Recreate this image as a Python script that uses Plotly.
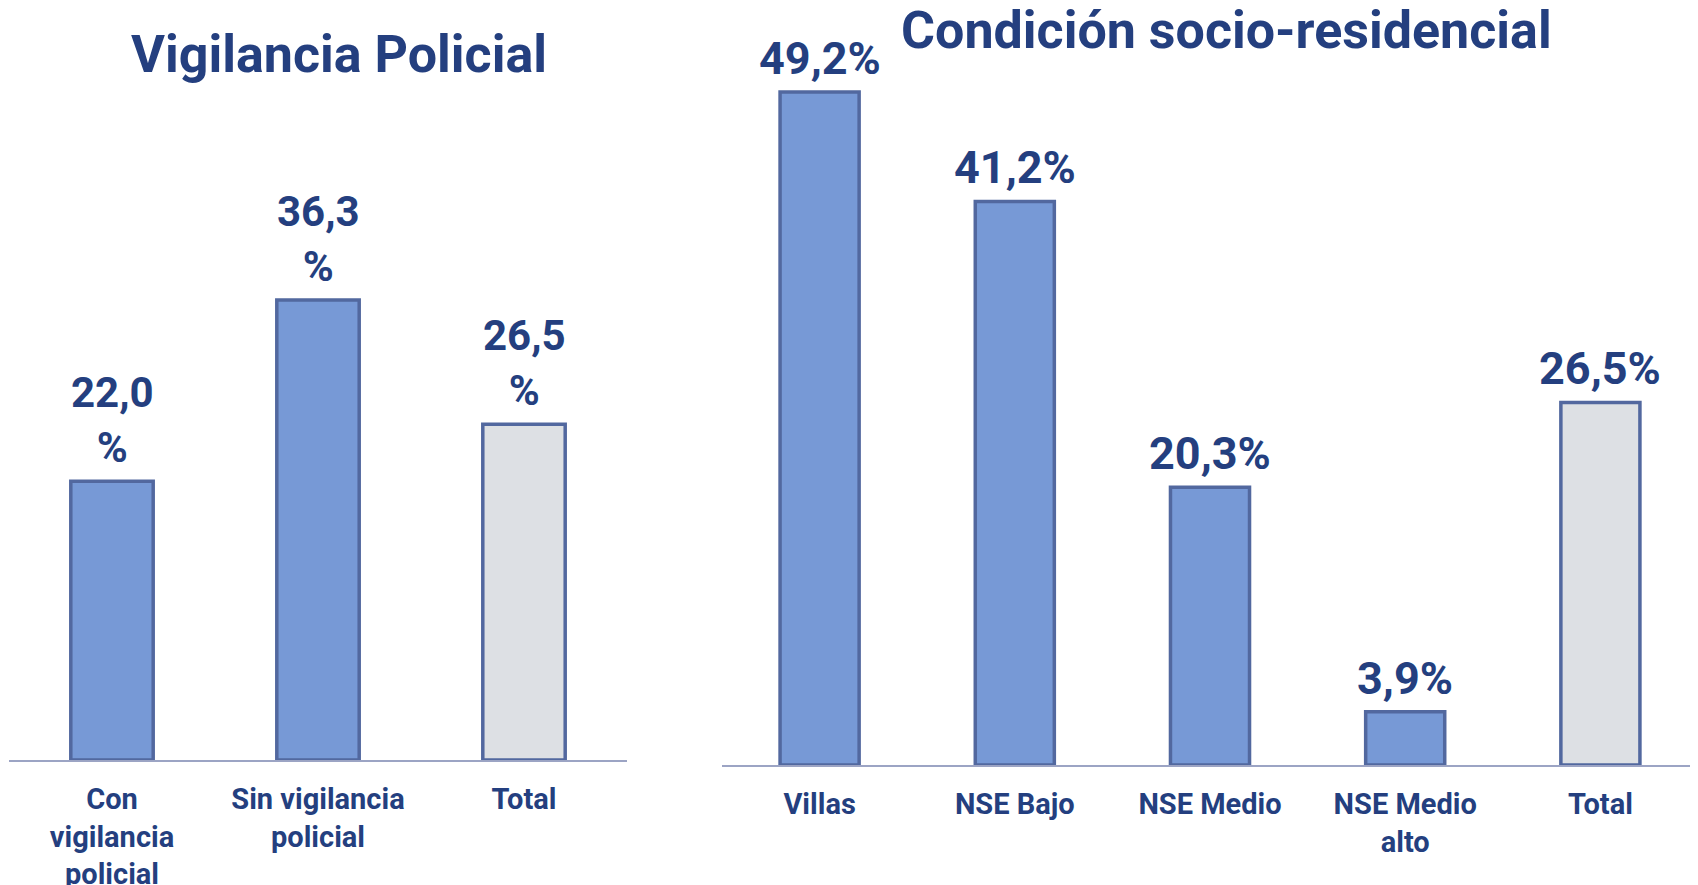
import plotly.graph_objects as go

# Data
vig_cats = ["Con<br>vigilancia<br>policial", "Sin vigilancia<br>policial", "Total"]
vig_vals = [22.0, 36.3, 26.5]
vig_labels = ["22,0<br>%", "36,3<br>%", "26,5<br>%"]

soc_cats = ["Villas", "NSE Bajo", "NSE Medio", "NSE Medio<br>alto", "Total"]
soc_vals = [49.2, 41.2, 20.3, 3.9, 26.5]
soc_labels = ["49,2%", "41,2%", "20,3%", "3,9%", "26,5%"]

BLUE = "#7799D6"
GREY = "#DDE0E4"
EDGE = "#52689F"
NAVY = "#243F7F"
FONT = "Roboto"

# page body adds an 8px margin, so the figure is shifted by 8px
W, H = 1690, 877


def fills(cats):
    return [GREY if c == "Total" else BLUE for c in cats]


fig = go.Figure()

fig.add_trace(go.Bar(
    x=vig_cats, y=vig_vals, xaxis="x", yaxis="y",
    marker=dict(color=fills(vig_cats), line=dict(color=EDGE, width=3.5)),
    width=0.4, showlegend=False, hoverinfo="skip"
))
fig.add_trace(go.Bar(
    x=soc_cats, y=soc_vals, xaxis="x2", yaxis="y2",
    marker=dict(color=fills(soc_cats), line=dict(color=EDGE, width=3.5)),
    width=0.405, showlegend=False, hoverinfo="skip"
))

# value labels above bars
annotations = []
for c, v, t in zip(vig_cats, vig_vals, vig_labels):
    annotations.append(dict(x=c, y=v, xref="x", yref="y", text=t, showarrow=False,
                            yanchor="bottom", yshift=7,
                            font=dict(family=FONT, size=42, color=NAVY, weight="bold")))
for c, v, t in zip(soc_cats, soc_vals, soc_labels):
    annotations.append(dict(x=c, y=v, xref="x2", yref="y2", text=t, showarrow=False,
                            yanchor="bottom", yshift=5,
                            font=dict(family=FONT, size=45, color=NAVY, weight="bold")))

# chart titles
annotations.append(dict(x=331 / W, y=1 - 46 / H, xref="paper", yref="paper",
                        text="Vigilancia Policial", showarrow=False,
                        xanchor="center", yanchor="middle",
                        font=dict(family=FONT, size=52, color=NAVY, weight="bold")))
annotations.append(dict(x=1218 / W, y=1 - 23 / H, xref="paper", yref="paper",
                        text="Condición socio-residencial", showarrow=False,
                        xanchor="center", yanchor="middle",
                        font=dict(family=FONT, size=52, color=NAVY, weight="bold")))

xstyle = dict(showline=True, linecolor="#9CA4C4", linewidth=2, ticks="",
              showgrid=False, zeroline=False, ticklabelstandoff=12, automargin=False,
              tickfont=dict(family=FONT, size=29, color=NAVY, weight="bold"))
ystyle = dict(visible=False, showgrid=False, zeroline=False, automargin=False)

fig.update_layout(
    width=W, height=H,
    margin=dict(l=0, r=0, t=0, b=0),
    paper_bgcolor="white", plot_bgcolor="white",
    xaxis=dict(domain=[1 / W, 619 / W], range=[-0.5, 2.5], anchor="y", **xstyle),
    yaxis=dict(domain=[1 - 752 / H, 1], range=[0, 752 / 12.67], anchor="x", **ystyle),
    xaxis2=dict(domain=[714 / W, 1.0], range=[-0.5, 4.5], anchor="y2", **xstyle),
    yaxis2=dict(domain=[1 - 757 / H, 1], range=[0, 757 / 13.68], anchor="x2", **ystyle),
    annotations=annotations,
)

fig.write_html("out.html")
